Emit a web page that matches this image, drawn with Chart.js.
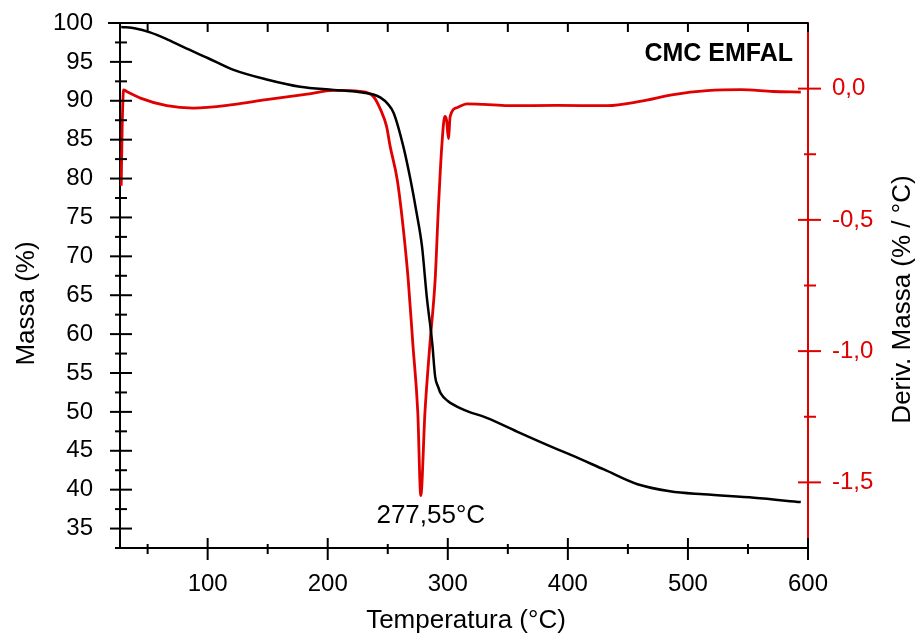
<!DOCTYPE html>
<html>
<head>
<meta charset="utf-8">
<script src="https://cdn.jsdelivr.net/npm/chart.js@4"></script>
<style>
  html, body { margin: 0; padding: 0; background: #fff; }
</style>
</head>
<body>
<canvas id="tga" width="922" height="637"></canvas>
<script>
// TGA curve (massa, left axis)
const tempMassa = [28, 40, 52, 65, 80, 100, 121, 150, 177, 205, 227, 238, 244, 250, 255, 263, 269, 274, 278.5, 282.5, 287, 289.5, 292, 294, 300, 313, 333, 360, 388, 402, 430, 458, 485, 513, 555, 594];
const massa = [99.5, 99.3, 98.8, 98.0, 96.9, 95.5, 94.0, 92.7, 91.8, 91.4, 91.1, 90.8, 90.4, 89.6, 88.4, 84.1, 79.8, 75.6, 71.3, 64.8, 58.9, 54.5, 53.2, 52.4, 51.4, 50.3, 49.2, 47.3, 45.4, 44.5, 42.6, 40.7, 39.8, 39.4, 38.95, 38.4];

// DTG curve (deriv. massa, right axis)
const tempDeriv = [28, 28.8, 30, 33, 44, 66, 88, 121, 149, 183, 205, 227, 238, 244, 249, 252, 258, 263, 267, 271, 275, 277.5, 281, 285, 289.5, 292, 295, 297.5, 299, 300.5, 302, 308, 316, 330, 350, 391, 433, 460, 488, 516, 544, 571, 594];
const deriv = [-0.37, -0.15, -0.005, -0.012, -0.036, -0.065, -0.074, -0.061, -0.042, -0.021, -0.007, -0.011, -0.03, -0.08, -0.144, -0.22, -0.35, -0.536, -0.726, -0.979, -1.232, -1.55, -1.232, -0.979, -0.726, -0.472, -0.22, -0.106, -0.12, -0.19, -0.106, -0.072, -0.058, -0.06, -0.065, -0.064, -0.065, -0.049, -0.023, -0.008, -0.004, -0.011, -0.013];

const peakTemp = 277.5;
const peakDeriv = -1.55;
const peakLabel = '277,55°C';
const sampleName = 'CMC EMFAL';

const RED = '#e00000';
const FONT = "'Liberation Sans', Arial, sans-serif";

function seg(ctx, x1, y1, x2, y2) {
    ctx.beginPath();
    ctx.moveTo(x1, y1);
    ctx.lineTo(x2, y2);
    ctx.stroke();
}

// tick marks crossing the axes, the top frame line and the free texts
const frame = {
    id: 'frame',
    afterDraw(chart) {
        const {ctx, chartArea: a} = chart;
        const {x, y, y1} = chart.scales;
        ctx.save();
        ctx.lineWidth = 2;
        ctx.strokeStyle = '#000';
        seg(ctx, a.left - 12, a.top, a.right, a.top);
        y.ticks.forEach(t => {
            const py = y.getPixelForValue(t.value);
            const big = t.value % 5 === 0;
            seg(ctx, a.left - (big ? 10 : 5), py, a.left + (big ? 12 : 7), py);
        });
        x.ticks.forEach(t => {
            const px = x.getPixelForValue(t.value);
            const big = t.value % 100 === 0;
            seg(ctx, px, a.bottom - (big ? 10 : 4), px, a.bottom + (big ? 12 : 6));
            seg(ctx, px, a.top, px, a.top + 9);
        });
        ctx.strokeStyle = RED;
        y1.ticks.forEach(t => {
            if (t.value <= y1.min || t.value >= y1.max) return;
            const py = y1.getPixelForValue(t.value);
            const big = Math.abs(t.value % 0.5) < 1e-9;
            seg(ctx, a.right - (big ? 10 : 4), py, a.right + (big ? 13 : 8), py);
        });

        const mid = (a.top + a.bottom) / 2;
        ctx.fillStyle = '#000';
        ctx.textBaseline = 'middle';
        ctx.textAlign = 'center';
        ctx.font = '26px ' + FONT;
        ctx.save();
        ctx.translate(27, mid + 18);
        ctx.rotate(-Math.PI / 2);
        ctx.fillText('Massa (%)', 0, 0);
        ctx.restore();
        ctx.save();
        ctx.translate(903, mid + 14);
        ctx.rotate(-Math.PI / 2);
        ctx.fillText('Deriv. Massa (% / °C)', 0, 0);
        ctx.restore();
        ctx.fillText('Temperatura (°C)', (a.left + a.right) / 2 + 2, 621);

        ctx.fillText(peakLabel, x.getPixelForValue(peakTemp) + 10, y1.getPixelForValue(peakDeriv) + 20);

        ctx.font = 'bold 25px ' + FONT;
        ctx.textAlign = 'right';
        ctx.fillText(sampleName, a.right - 15, a.top + 31);
        ctx.restore();
    }
};

function noPad(s) {
    s.paddingTop = 0;
    s.paddingBottom = 0;
    s.paddingLeft = 0;
    s.paddingRight = 0;
}

new Chart(document.getElementById('tga'), {
    type: 'line',
    data: {
        datasets: [
            {
                label: 'Massa',
                data: tempMassa.map((t, i) => ({x: t, y: massa[i]})),
                yAxisID: 'y',
                borderColor: '#000',
                borderWidth: 2.5,
                pointRadius: 0,
                cubicInterpolationMode: 'monotone',
                order: 0,
            },
            {
                label: 'Deriv. Massa',
                data: tempDeriv.map((t, i) => ({x: t, y: deriv[i]})),
                yAxisID: 'y1',
                borderColor: RED,
                borderWidth: 2.8,
                pointRadius: 0,
                cubicInterpolationMode: 'monotone',
                order: 1,
            },
        ]
    },
    options: {
        responsive: false,
        animation: false,
        layout: { padding: { top: 23, left: 0, right: 0, bottom: 0 } },
        plugins: {
            legend: { display: false },
            tooltip: { enabled: false },
        },
        scales: {
            x: {
                type: 'linear',
                min: 27,
                max: 600,
                grid: { display: false, drawTicks: false },
                border: { display: true, color: '#000', width: 2 },
                ticks: {
                    stepSize: 50,
                    includeBounds: false,
                    autoSkip: false,
                    maxRotation: 0,
                    padding: 22,
                    color: '#000',
                    font: { family: FONT, size: 24 },
                    callback: v => v % 100 === 0 ? String(v) : '',
                },
                afterFit: s => { s.height = 89; noPad(s); },
            },
            y: {
                position: 'left',
                min: 32.5,
                max: 100,
                grid: { display: false, drawTicks: false },
                border: { display: true, color: '#000', width: 2 },
                ticks: {
                    stepSize: 2.5,
                    autoSkip: false,
                    maxTicksLimit: 100,
                    padding: 27,
                    color: '#000',
                    font: { family: FONT, size: 24 },
                    callback: v => v % 5 === 0 ? String(v) : '',
                },
                afterFit: s => { s.width = 120; noPad(s); },
            },
            y1: {
                position: 'right',
                min: -1.75,
                max: 0.25,
                grid: { display: false, drawTicks: false },
                border: { display: true, color: RED, width: 2 },
                ticks: {
                    stepSize: 0.25,
                    autoSkip: false,
                    maxTicksLimit: 100,
                    padding: 24,
                    color: RED,
                    font: { family: FONT, size: 24 },
                    callback: v => Math.abs(v % 0.5) < 1e-9 ? v.toFixed(1).replace('.', ',') : '',
                },
                afterFit: s => { s.width = 114; noPad(s); },
            },
        },
    },
    plugins: [frame],
});
</script>
</body>
</html>
